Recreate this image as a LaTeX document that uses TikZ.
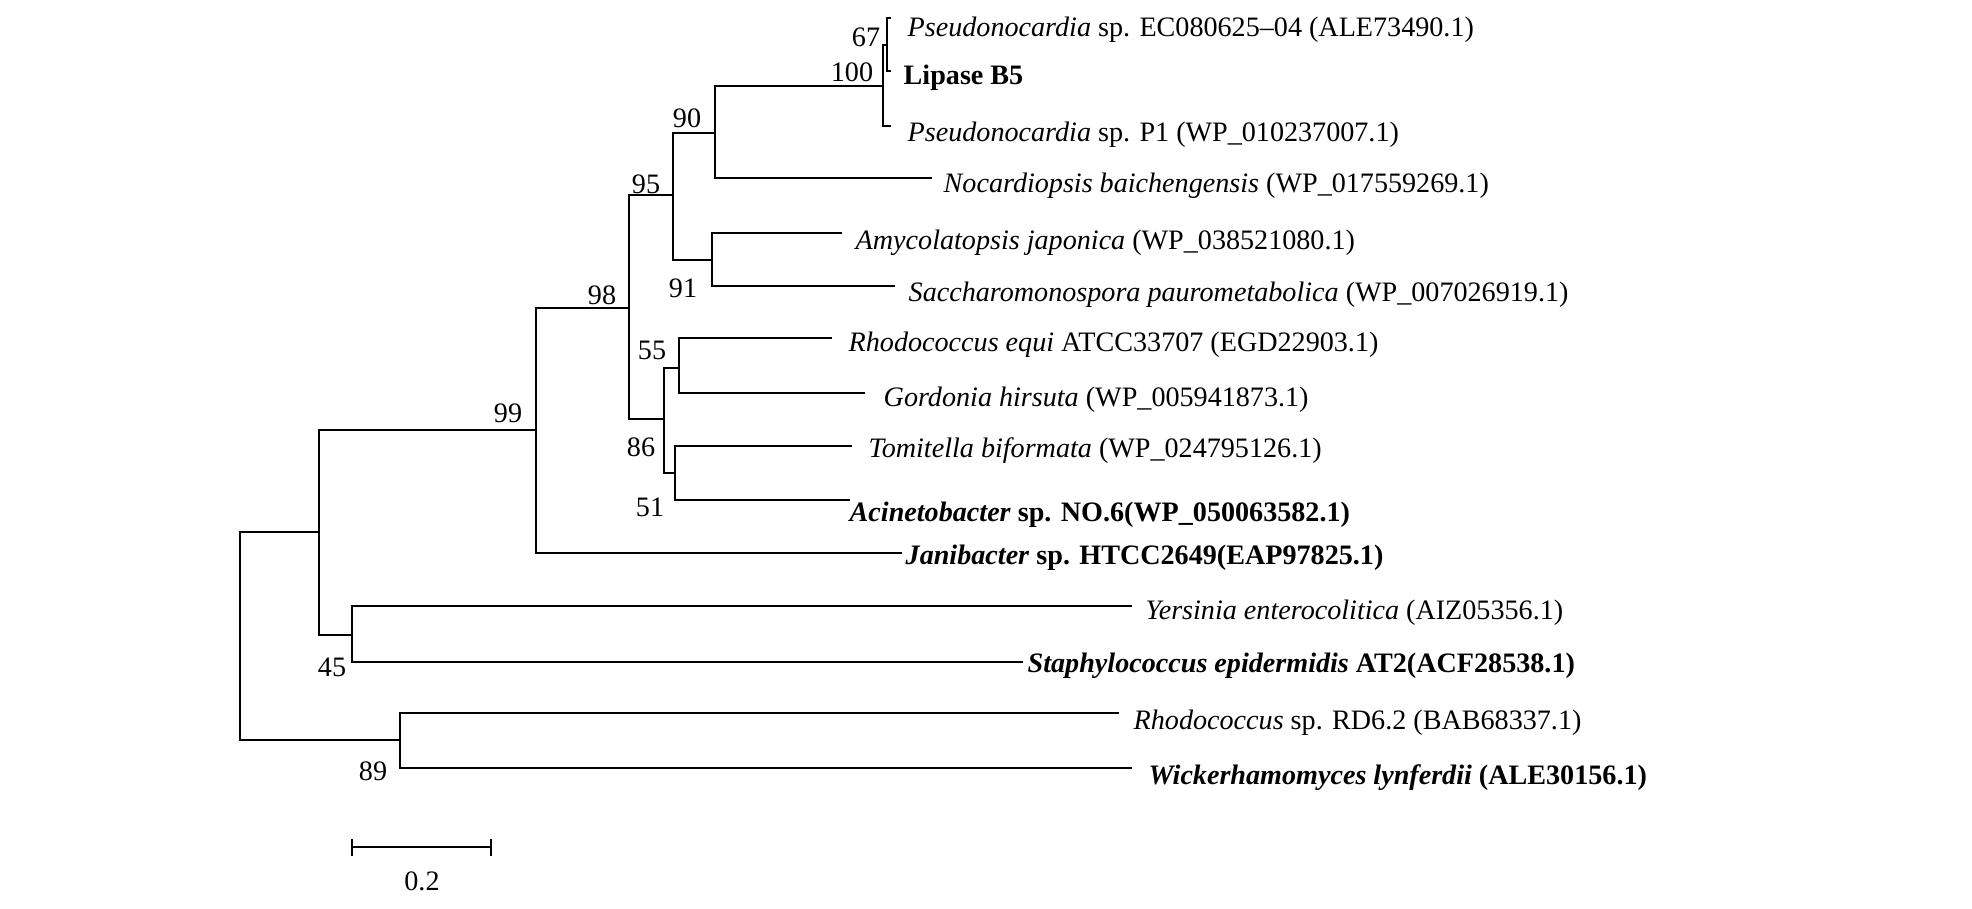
\documentclass[tikz,border=0pt]{standalone}
\usepackage{fontspec}
\setmainfont{Liberation Serif}

\begin{document}
\begin{tikzpicture}[
    x=0.01cm, y=-0.01cm,
    branch/.style={line width=0.8pt, line join=miter},
    taxon/.style={anchor=base west, inner sep=0pt,
                  font=\fontsize{8}{10}\selectfont},
    hit/.style={anchor=base west, inner sep=0pt,
                font=\fontsize{8}{10}\selectfont\bfseries},
    boot/.style={inner sep=0pt, font=\fontsize{8}{10}\selectfont},
  ]
    \useasboundingbox (0,0) rectangle (1972,909);

    % inner nodes
    \coordinate (R)    at (240,636);
    \coordinate (nA)   at (319,532);
    \coordinate (n99)  at (536,430);
    \coordinate (n45)  at (352,635);
    \coordinate (n89)  at (400,740);
    \coordinate (n98)  at (629,308);
    \coordinate (n95)  at (673,195);
    \coordinate (n86)  at (664,419);
    \coordinate (n90)  at (715,133);
    \coordinate (n91)  at (712,260);
    \coordinate (n100) at (883,86);
    \coordinate (n67)  at (887,45);
    \coordinate (n55)  at (679,368);
    \coordinate (n51)  at (675,473);

    % tips
    \coordinate (tipEC)  at (891,18);
    \coordinate (tipLip) at (891,71);
    \coordinate (tipP1)  at (891,126);
    \coordinate (tipNoc) at (932,178);
    \coordinate (tipAmy) at (842,233);
    \coordinate (tipSac) at (895,286);
    \coordinate (tipReq) at (832,338);
    \coordinate (tipGor) at (865,393);
    \coordinate (tipTom) at (852,446);
    \coordinate (tipAci) at (850,500);
    \coordinate (tipJan) at (902,553);
    \coordinate (tipYer) at (1132,606);
    \coordinate (tipSta) at (1023,662);
    \coordinate (tipRho) at (1119,713);
    \coordinate (tipWic) at (1132,768);

    \node[taxon] (tEC)  at (907,36)  {\textit{Pseudonocardia} sp. EC080625--04 (ALE73490.1)};
    \node[hit]   (tLip) at (903,84)  {Lipase B5};
    \node[taxon] (tP1)  at (907,141) {\textit{Pseudonocardia} sp. P1 (WP\_010237007.1)};
    \node[taxon] (tNoc) at (943,192) {\textit{Nocardiopsis baichengensis} (WP\_017559269.1)};
    \node[taxon] (tAmy) at (855,249) {\textit{Amycolatopsis japonica} (WP\_038521080.1)};
    \node[taxon] (tSac) at (908,301) {\textit{Saccharomonospora paurometabolica} (WP\_007026919.1)};
    \node[taxon] (tReq) at (848,351) {\textit{Rhodococcus equi} ATCC33707 (EGD22903.1)};
    \node[taxon] (tGor) at (883,406) {\textit{Gordonia hirsuta} (WP\_005941873.1)};
    \node[taxon] (tTom) at (868,457) {\textit{Tomitella biformata} (WP\_024795126.1)};
    \node[hit]   (tAci) at (849,521) {\textit{Acinetobacter} sp. NO.6(WP\_050063582.1)};
    \node[hit]   (tJan) at (905,564) {\textit{Janibacter} sp. HTCC2649(EAP97825.1)};
    \node[taxon] (tYer) at (1145,619) {\textit{Yersinia enterocolitica} (AIZ05356.1)};
    \node[hit]   (tSta) at (1027,672) {\textit{Staphylococcus epidermidis} AT2(ACF28538.1)};
    \node[taxon] (tRho) at (1133,729) {\textit{Rhodococcus} sp. RD6.2 (BAB68337.1)};
    \node[hit]   (tWic) at (1148,784) {\textit{Wickerhamomyces lynferdii} (ALE30156.1)};

    % bootstrap values
    \node[boot] (b67)  at (866,37)  {67};
    \node[boot] (b100) at (852,72)  {100};
    \node[boot] (b90)  at (687,118) {90};
    \node[boot] (b95)  at (646,184) {95};
    \node[boot] (b91)  at (683,288) {91};
    \node[boot] (b98)  at (602,295) {98};
    \node[boot] (b55)  at (652,350) {55};
    \node[boot] (b86)  at (641,447) {86};
    \node[boot] (b51)  at (650,507) {51};
    \node[boot] (b99)  at (508,413) {99};
    \node[boot] (b45)  at (332,667) {45};
    \node[boot] (b89)  at (373,771) {89};

    \draw[branch] (R) |- (nA);     \draw[branch] (R) |- (n89);
    \draw[branch] (nA) |- (n99);   \draw[branch] (nA) |- (n45);
    \draw[branch] (n99) |- (n98);  \draw[branch] (n99) |- (tipJan);
    \draw[branch] (n98) |- (n95);  \draw[branch] (n98) |- (n86);
    \draw[branch] (n95) |- (n90);  \draw[branch] (n95) |- (n91);
    \draw[branch] (n90) |- (n100); \draw[branch] (n90) |- (tipNoc);
    \draw[branch] (n100) |- (n67); \draw[branch] (n100) |- (tipP1);
    \draw[branch] (n67) |- (tipEC); \draw[branch] (n67) |- (tipLip);
    \draw[branch] (n91) |- (tipAmy); \draw[branch] (n91) |- (tipSac);
    \draw[branch] (n86) |- (n55);  \draw[branch] (n86) |- (n51);
    \draw[branch] (n55) |- (tipReq); \draw[branch] (n55) |- (tipGor);
    \draw[branch] (n51) |- (tipTom); \draw[branch] (n51) |- (tipAci);
    \draw[branch] (n45) |- (tipYer); \draw[branch] (n45) |- (tipSta);
    \draw[branch] (n89) |- (tipRho); \draw[branch] (n89) |- (tipWic);

    % scale bar
    \coordinate (sbL) at (352,847);
    \coordinate (sbR) at (491,847);
    \draw[branch] (sbL) -- (sbR);
    \draw[branch] ([yshift=0.08cm]sbL) -- ([yshift=-0.09cm]sbL);
    \draw[branch] ([yshift=0.08cm]sbR) -- ([yshift=-0.09cm]sbR);
    \node[boot] (sbT) at (422,881) {0.2};
  \end{tikzpicture}
\end{document}
